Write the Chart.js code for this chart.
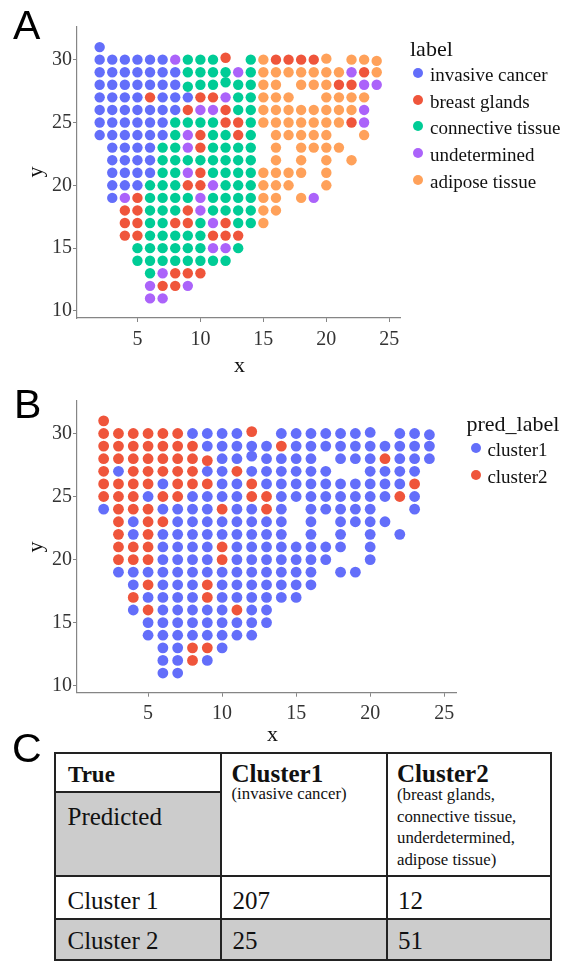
<!DOCTYPE html>
<html>
<head>
<meta charset="utf-8">
<script src="https://cdn.jsdelivr.net/npm/chart.js@4.4.0/dist/chart.umd.min.js"></script>
<style>
  html, body { margin: 0; padding: 0; background: #fff; }
  body { width: 566px; height: 964px; position: relative; overflow: hidden; font-family: 'Liberation Serif', 'Times New Roman', serif; color: #222; }
  canvas { position: absolute; left: 0; }
  .t { position: absolute; white-space: nowrap; }
  .dot { position: absolute; width: 10px; height: 10px; border-radius: 50%; }
  .line { position: absolute; background: #222; }
  .fill { position: absolute; background: #cccccc; }
</style>
</head>
<body>
<canvas id="chartA" width="566" height="380" style="top:0"></canvas>
<canvas id="chartB" width="566" height="350" style="top:380px"></canvas>

<script>
// ---- data ----
const xTicks = [5, 10, 15, 20, 25];
const yTicks = [10, 15, 20, 25, 30];
const xRange = [0.2, 25.85];
const yRange = [9.44, 32.6];

// spots sit on an integer grid; each string is one row, char index = x - gridX0, '.' = no spot
const gridX0 = 2;
const rowY = [31, 30, 29, 28, 27, 26, 25, 24, 23, 22, 21, 20, 19, 18, 17, 16, 15, 14, 13, 12, 11];

const tissueCodes = ['I', 'B', 'C', 'U', 'A'];
const tissueNames = ['invasive cancer', 'breast glands', 'connective tissue', 'undetermined', 'adipose tissue'];
const tissueColors = ['#636EFA', '#EF553B', '#00CC96', '#AB63FA', '#FFA15A'];
const tissueRows = [
  'I......................',
  'IIIIIIUCCCB.CABBBBA.AAA',
  'IIIIIIICCCCUCAAAAAAAUBA',
  'IIIIIIICCCCCCAA.AAABBUU',
  'IIIIBIIIBBUCCAAA..AAAA.',
  'IIIIIIIBUUBCCAAAAAAAAU.',
  'IIIIIICCCCBBCAAAAAAABU.',
  'IIIIIICUBCCBC.AAAAA..A.',
  '.IIIICCUBCCCC.A.AAAA...',
  '.IIIICCCCCCCC.A.A.A.A..',
  '.IIIICCUBCCCCAAAA.A....',
  '.IIICCCBBUCCCAAA..A....',
  '.IUBCCCCUCCCCAA.AU.....',
  '..BBCCCBUCCCCAA........',
  '..BBCCBBCUBCCA.........',
  '..BBCCCCCBBB...........',
  '...CCCCCCUUC...........',
  '...CCCCCCCC............',
  '....CUBBB..............',
  '....UBBU...............',
  '....UU.................'
];

const clusterCodes = ['1', '2'];
const clusterNames = ['cluster1', 'cluster2'];
const clusterColors = ['#636EFA', '#EF553B'];
const clusterRows = [
  '2......................',
  '22222211112.1111111.111',
  '22222221111121111111111',
  '222222221111111.1112111',
  '2122222112111111..1111.',
  '2222122211211111111112.',
  '2221221111221111111121.',
  '1222111121121.11111..1.',
  '.212211111111.1.1111...',
  '.212111111111.1.1.1.1..',
  '.2221111211111111.1....',
  '.222111121111111..1....',
  '.11111111111111.11.....',
  '..1211121111111........',
  '..211112111111.........',
  '..1211111211...........',
  '...111111111...........',
  '...11111111............',
  '....11221..............',
  '....1121...............',
  '....11.................'
];

// small off-grid shifts of a few spots: [x, y, dy]
const spotShift = [[12, 30, 0.15], [9, 28, -0.15], [12, 28, 0.2], [24, 30, -0.1], [20, 30, 0.08]];

const tableHead = ['True', 'Predicted'];
const tableCols = ['Cluster1', 'Cluster2'];
const tableColNotes = [['(invasive cancer)'], ['(breast glands,', 'connective tissue,', 'underdetermined,', 'adipose tissue)']];
const tableRows = ['Cluster 1', 'Cluster 2'];
const tableCounts = [[207, 12], [25, 51]];

// ---- helpers ----
function buildDatasets(rows, codes, names, colors, radius) {
  return codes.map((code, k) => {
    const pts = [];
    rows.forEach((row, r) => {
      for (let i = 0; i < row.length; i++) {
        if (row[i] !== code) continue;
        const x = gridX0 + i;
        let y = rowY[r];
        const s = spotShift.find(d => d[0] === x && d[1] === y);
        if (s) y += s[2];
        pts.push({ x, y });
      }
    });
    return {
      label: names[k],
      data: pts,
      backgroundColor: colors[k],
      borderColor: colors[k],
      borderWidth: 0,
      pointRadius: radius,
      pointHoverRadius: radius
    };
  });
}

function makeScatter(id, datasets, box) {
  const axisColor = '#858585';
  const tickFont = { family: "'Liberation Serif', serif", size: 20 };
  return new Chart(document.getElementById(id), {
    type: 'scatter',
    data: { datasets },
    options: {
      responsive: false,
      animation: false,
      events: [],
      layout: { padding: { left: 0, top: box.top, right: box.right, bottom: 0 } },
      plugins: { legend: { display: false }, tooltip: { enabled: false } },
      scales: {
        x: {
          type: 'linear', min: xRange[0], max: xRange[1],
          afterBuildTicks: s => { s.ticks = xTicks.map(v => ({ value: v })); },
          afterFit: s => { s.height = box.h - box.bottom; },
          grid: { drawOnChartArea: false, drawTicks: true, tickLength: 4, color: axisColor },
          border: { display: true, color: axisColor, width: 1.2 },
          ticks: { font: tickFont, color: '#333', padding: box.xPad, maxRotation: 0, autoSkip: false }
        },
        y: {
          type: 'linear', min: yRange[0], max: yRange[1],
          afterBuildTicks: s => { s.ticks = yTicks.map(v => ({ value: v })); },
          afterFit: s => { s.width = box.left; },
          grid: { drawOnChartArea: false, drawTicks: true, tickLength: 4, color: axisColor },
          border: { display: true, color: axisColor, width: 1.2 },
          ticks: { font: tickFont, color: '#333', padding: 1, autoSkip: false }
        }
      }
    }
  });
}

// text placed by its baseline
function putText(str, x, baseline, size, opts = {}) {
  const d = document.createElement('div');
  d.className = 't';
  d.textContent = str;
  const sans = !!opts.sans;
  d.style.fontFamily = sans ? "'Liberation Sans', Arial, sans-serif" : "'Liberation Serif', serif";
  d.style.fontSize = size + 'px';
  d.style.lineHeight = size + 'px';
  d.style.fontWeight = opts.bold ? 'bold' : 'normal';
  d.style.color = opts.color || '#111';
  d.style.left = x + 'px';
  d.style.top = (baseline - (sans ? 0.8465 : 0.8375) * size) + 'px';
  document.body.appendChild(d);
  return d;
}

function putRotated(str, cx, cy, size) {
  const d = document.createElement('div');
  d.className = 't';
  d.textContent = str;
  d.style.fontSize = size + 'px';
  d.style.lineHeight = size + 'px';
  d.style.color = '#111';
  d.style.left = cx + 'px';
  d.style.top = cy + 'px';
  d.style.transform = 'translate(-50%, -50%) rotate(-90deg)';
  document.body.appendChild(d);
}

function putDot(cx, cy, color) {
  const d = document.createElement('div');
  d.className = 'dot';
  d.style.left = (cx - 5) + 'px';
  d.style.top = (cy - 5) + 'px';
  d.style.background = color;
  document.body.appendChild(d);
}

function putRect(cls, x, y, w, h) {
  const d = document.createElement('div');
  d.className = cls;
  d.style.left = x + 'px';
  d.style.top = y + 'px';
  d.style.width = w + 'px';
  d.style.height = h + 'px';
  document.body.appendChild(d);
}

// ---- panel A ----
makeScatter('chartA', buildDatasets(tissueRows, tissueCodes, tissueNames, tissueColors, 5.2),
  { h: 380, left: 77, top: 27, right: 166, bottom: 318, xPad: 6 });
putText('A', 13, 40, 41, { sans: true, color: '#000' });
putText('x', 234, 372, 22);
putRotated('y', 35, 172, 22);
putText('label', 410, 56.5, 22);
tissueNames.forEach((name, i) => {
  const cy = 73 + i * 26.7;
  putDot(418.3, cy, tissueColors[i]);
  putText(name, 430, cy + 8, 19);
});

// ---- panel B ----
makeScatter('chartB', buildDatasets(clusterRows, clusterCodes, clusterNames, clusterColors, 5.4),
  { h: 350, left: 77, top: 20.7, right: 109.2, bottom: 312.7, xPad: 5 });
putText('B', 14, 419, 41, { sans: true, color: '#000' });
putText('x', 267, 741, 22);
putRotated('y', 35, 547, 22);
putText('pred_label', 466.5, 431.5, 22);
clusterNames.forEach((name, i) => {
  const cy = 447.7 + i * 27.3;
  putDot(476, cy, clusterColors[i]);
  putText(name, 487.4, cy + 8, 19);
});

// ---- panel C: table ----
putText('C', 12, 763, 41, { sans: true, color: '#000' });
const tL = 55, tR = 551, tT = 753, tB = 960;
const cX = [tL, 221, 386.5, tR];
const rY = [tT, 875.5, 919, tB];
const splitY = 791.5;
putRect('fill', tL, splitY, cX[1] - tL, rY[1] - splitY);
putRect('fill', tL, rY[2], tR - tL, tB - rY[2]);
cX.forEach(x => putRect('line', x - 1, tT - 1, 2, tB - tT + 2));
rY.forEach(y => putRect('line', tL - 1, y - 1, tR - tL + 2, 2));
putRect('line', tL - 1, splitY - 1, cX[1] - tL + 1, 2);

putText(tableHead[0], 68, 782, 23, { bold: true });
putText(tableHead[1], 67.5, 824.7, 25);
tableCols.forEach((c, j) => {
  const x = cX[j + 1] + 10.5;
  putText(c, x, 782, 25, { bold: true });
  const first = j === 0 ? 800 : 801;
  tableColNotes[j].forEach((line, k) => putText(line, x, first + k * 21.6, 16.8));
});
tableRows.forEach((r, i) => {
  const base = i === 0 ? 909 : 949;
  putText(r, 67.5, base, 25);
  tableCounts[i].forEach((v, j) => putText(String(v), cX[j + 1] + 11.5, base, 25));
});
</script>
</body>
</html>
